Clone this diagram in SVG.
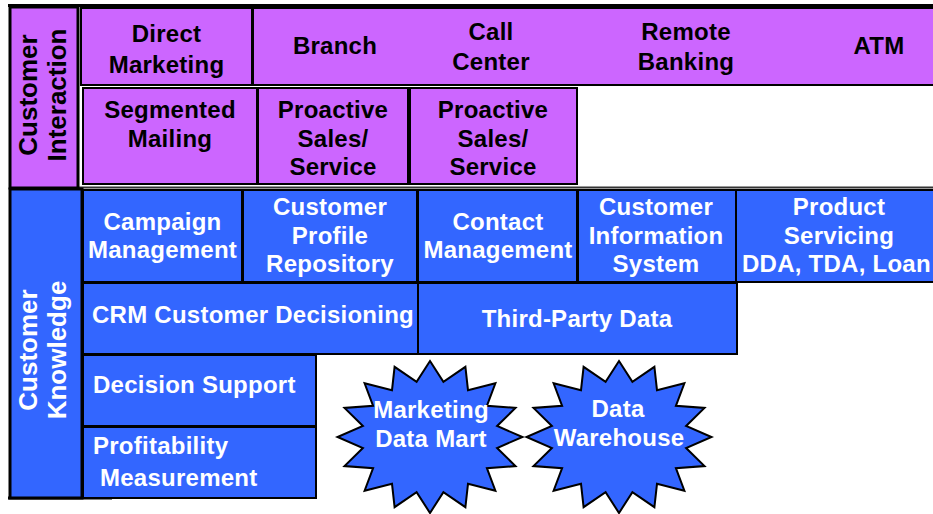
<svg xmlns="http://www.w3.org/2000/svg" xmlns:xlink="http://www.w3.org/1999/xlink" width="933" height="514" viewBox="0 0 933 514">
<style>
.p{fill:#CC66FF;stroke:#000;stroke-width:2}
.b{fill:#3366FF;stroke:#000;stroke-width:2}
text{font-family:"Liberation Sans",Arial,sans-serif;font-weight:bold;font-size:24px;letter-spacing:0.25px}
.k{fill:#000}
.w{fill:#fff}
.c{text-anchor:middle}
.v{font-size:26px;letter-spacing:0}
</style>
<defs>
<polygon id="star" points="0,-76 13.4,-55.2 35.4,-70.2 38,-46.8 65.4,-53.7 56.9,-31.2 85.5,-29.1 67.1,-11 92.5,0 67.1,11 85.5,29.1 56.9,31.2 65.4,53.7 38,46.8 35.4,70.2 13.4,55.2 0,76 -13.4,55.2 -35.4,70.2 -38,46.8 -65.4,53.7 -56.9,31.2 -85.5,29.1 -67.1,11 -92.5,0 -67.1,-11 -85.5,-29.1 -56.9,-31.2 -65.4,-53.7 -38,-46.8 -35.4,-70.2 -13.4,-55.2" fill="#3366FF" stroke="#000" stroke-width="2"/>
</defs>
<rect x="0" y="0" width="933" height="514" fill="#fff"/>
<line x1="8" y1="5.5" x2="933" y2="5.5" stroke="#000" stroke-width="3"/>
<line x1="8" y1="498" x2="112" y2="498" stroke="#000" stroke-width="3"/>
<line x1="78" y1="187.5" x2="933" y2="187.5" stroke="#333" stroke-width="2"/>

<g id="customer-interaction">
<rect x="10" y="7" width="68" height="181" fill="#CC66FF" stroke="#000" stroke-width="3"/>
<text class="k c v" transform="translate(37,95) rotate(-90)">Customer</text>
<text class="k c v" transform="translate(66,95) rotate(-90)">Interaction</text>
</g>
<g id="direct-marketing">
<rect class="p" x="81" y="8" width="171" height="77"/>
<text class="k c" x="166.5" y="42">Direct</text>
<text class="k c" x="166.5" y="73">Marketing</text>
</g>
<g id="channels">
<rect class="p" x="253" y="8" width="690" height="77"/>
<text class="k c" x="335" y="54">Branch</text>
<text class="k c" x="491" y="40">Call</text>
<text class="k c" x="491" y="70">Center</text>
<text class="k c" x="686" y="40">Remote</text>
<text class="k c" x="686" y="70">Banking</text>
<text class="k c" x="879" y="54">ATM</text>
</g>
<g id="segmented-mailing">
<rect class="p" x="83" y="88" width="174" height="96"/>
<text class="k c" x="170" y="118">Segmented</text>
<text class="k c" x="170" y="147">Mailing</text>
</g>
<g id="proactive-1">
<rect class="p" x="258" y="88" width="150" height="96"/>
<text class="k c" x="333" y="118">Proactive</text>
<text class="k c" x="333" y="147">Sales/</text>
<text class="k c" x="333" y="175">Service</text>
</g>
<g id="proactive-2">
<rect class="p" x="410" y="88" width="167" height="96"/>
<text class="k c" x="493" y="118">Proactive</text>
<text class="k c" x="493" y="147">Sales/</text>
<text class="k c" x="493" y="175">Service</text>
</g>

<g id="customer-knowledge">
<rect x="10" y="189" width="72" height="309" fill="#3366FF" stroke="#000" stroke-width="3"/>
<text class="w c v" transform="translate(37,350) rotate(-90)">Customer</text>
<text class="w c v" transform="translate(66,350) rotate(-90)">Knowledge</text>
</g>
<g id="campaign-management">
<rect class="b" x="83" y="190" width="159" height="92"/>
<text class="w c" x="162.5" y="230">Campaign</text>
<text class="w c" x="162.5" y="258">Management</text>
</g>
<g id="customer-profile-repository">
<rect class="b" x="243" y="190" width="174" height="92"/>
<text class="w c" x="330" y="215">Customer</text>
<text class="w c" x="330" y="244">Profile</text>
<text class="w c" x="330" y="272">Repository</text>
</g>
<g id="contact-management">
<rect class="b" x="418" y="190" width="159" height="92"/>
<text class="w c" x="498" y="230">Contact</text>
<text class="w c" x="498" y="258">Management</text>
</g>
<g id="customer-information-system">
<rect class="b" x="578" y="190" width="158" height="92"/>
<text class="w c" x="656" y="215">Customer</text>
<text class="w c" x="656" y="244">Information</text>
<text class="w c" x="656" y="272">System</text>
</g>
<g id="product-servicing">
<rect class="b" x="736" y="190" width="207" height="92"/>
<text class="w c" x="839" y="215">Product</text>
<text class="w c" x="839" y="244">Servicing</text>
<text class="w" x="742" y="272">DDA, TDA, Loan</text>
</g>
<g id="crm-customer-decisioning">
<rect class="b" x="83" y="283" width="335" height="71"/>
<text class="w c" x="253" y="323">CRM Customer Decisioning</text>
</g>
<g id="third-party-data">
<rect class="b" x="418" y="283" width="319" height="71"/>
<text class="w c" x="577" y="327">Third-Party Data</text>
</g>
<g id="decision-support">
<rect class="b" x="83" y="355" width="233" height="71"/>
<text class="w" x="93" y="393">Decision Support</text>
</g>
<g id="profitability-measurement">
<rect class="b" x="83" y="427" width="233" height="71"/>
<text class="w" x="93" y="454">Profitability</text>
<text class="w" x="100" y="486">Measurement</text>
</g>
<g id="marketing-data-mart">
<use xlink:href="#star" href="#star" transform="translate(430,437)"/>
<text class="w c" x="431" y="418">Marketing</text>
<text class="w c" x="431" y="447">Data Mart</text>
</g>
<g id="data-warehouse">
<use xlink:href="#star" href="#star" transform="translate(619,437)"/>
<text class="w c" x="618" y="417">Data</text>
<text class="w c" x="619" y="446">Warehouse</text>
</g>
</svg>
